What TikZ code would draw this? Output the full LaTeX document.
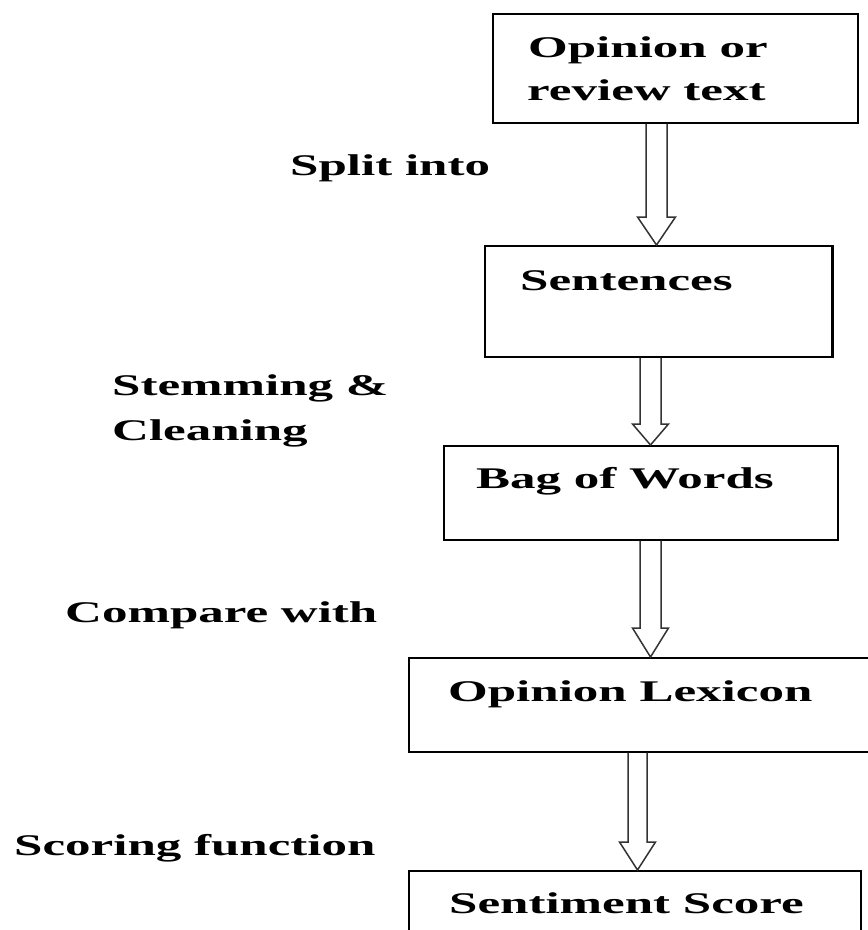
\documentclass[tikz,border=0pt]{standalone}
\usepackage{fontspec}
\setmainfont{Liberation Serif}[FakeStretch=1.7]
\usetikzlibrary{calc}
\tikzset{
  box/.style={draw=black, line width=1.5pt, rectangle, inner sep=0pt, anchor=north west},
  lbl/.style={anchor=base west, inner sep=0pt, font=\fontsize{30}{34}\selectfont\bfseries},
  arr/.style={draw=black!80, line width=1.5pt, line join=miter},
}
% from node, to node, x centre, shaft half width, head half width, head length
\newcommand{\harrow}[6]{%
  \draw[arr] let \p1=(#1.south), \p2=(#2.north) in
    ({#3pt-#4pt},\y1) -- ({#3pt-#4pt},{\y2+#6pt}) -- ({#3pt-#5pt},{\y2+#6pt})
    -- ({#3pt},\y2) -- ({#3pt+#5pt},{\y2+#6pt}) -- ({#3pt+#4pt},{\y2+#6pt})
    -- ({#3pt+#4pt},\y1);}
\begin{document}
\begin{tikzpicture}[x=1pt,y=1pt]
\useasboundingbox (0,0) rectangle (868,-930);
\fill[white] (0,0) rectangle (868,-930);
% boxes
\node[box, minimum width=365pt, minimum height=109pt] (b1) at (492,-13) {};
\node[box, minimum width=347pt, minimum height=111pt] (b2) at (484,-245) {};
\node[box, minimum width=394pt, minimum height=94pt]  (b3) at (443,-445) {};
\node[box, minimum width=480pt, minimum height=94pt]  (b4) at (408,-657) {};
\node[box, minimum width=452pt, minimum height=90pt]  (b5) at (408,-870) {};
\draw[line width=3.5pt] (b2.north east) -- (b2.south east);
% box texts
\node[lbl] (t1a) at (528,-57) {Opinion or};
\node[lbl] (t1b) at (527,-100) {review text};
\node[lbl] (t2) at (520,-290) {Sentences};
\node[lbl] (t3) at (476,-488) {Bag of Words};
\node[lbl] (t4) at (448,-701) {Opinion Lexicon};
\node[lbl] (t5) at (449,-913) {Sentiment Score};
% side labels
\node[lbl] (l1) at (290,-175) {Split into};
\node[lbl] (l2) at (112,-395) {Stemming \&};
\node[lbl] (l3) at (112,-440) {Cleaning};
\node[lbl] (l4) at (65,-622) {Compare with};
\node[lbl] (l5) at (14,-855) {Scoring function};
% hollow arrows
\harrow{b1}{b2}{656.5}{10.5}{19}{28}
\harrow{b2}{b3}{650.5}{10.5}{18}{21}
\harrow{b3}{b4}{650.5}{10.5}{18}{29}
\harrow{b4}{b5}{637.5}{9.5}{18}{28}
\end{tikzpicture}
\end{document}
